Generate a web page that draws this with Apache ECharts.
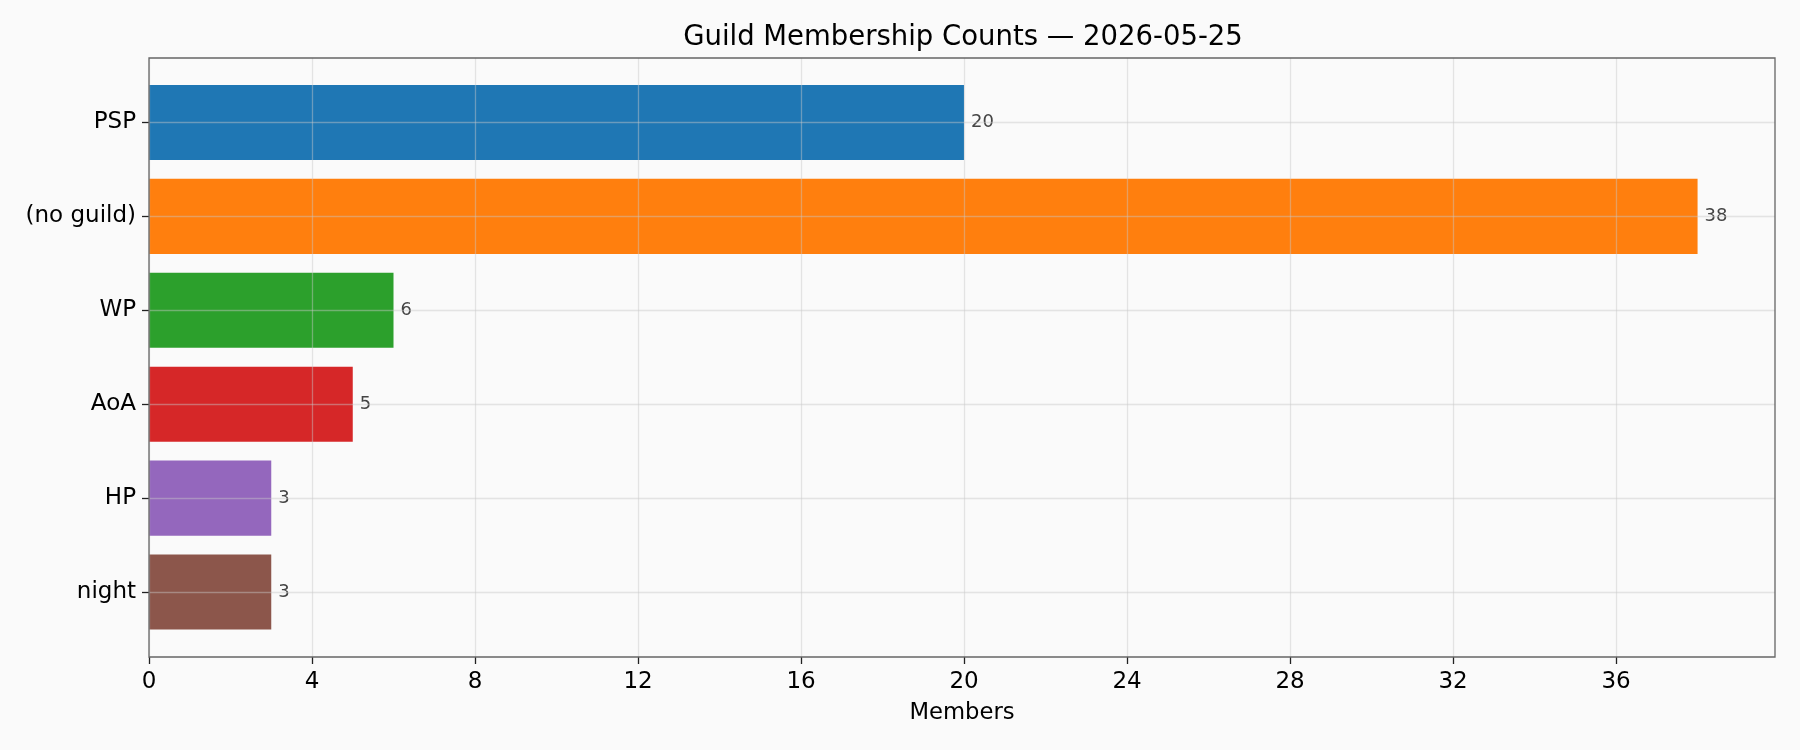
<!DOCTYPE html>
<html>
<head>
<meta charset="utf-8">
<script src="https://cdn.jsdelivr.net/npm/echarts@6/dist/echarts.min.js"></script>
<style>
  html, body { margin: 0; padding: 0; background: #fafafa; }
  #main { width: 1800px; height: 750px; }
</style>
</head>
<body>
<div id="main"></div>
<script>
var guilds = ['PSP', '(no guild)', 'WP', 'AoA', 'HP', 'night'];
var members = [20, 38, 6, 5, 3, 3];
var barColors = ['#1f77b4', '#ff7f0e', '#2ca02c', '#d62728', '#9467bd', '#8c564b'];
var xTicks = [0, 4, 8, 12, 16, 20, 24, 28, 32, 36];

var FONT = 'DejaVu Sans';
var X_MAX = 39.9;
var GRID_LINE = 'rgba(200,200,200,0.45)';

var chartDom = document.getElementById('main');
var myChart = echarts.init(chartDom);

var option = {
  backgroundColor: '#fafafa',
  animation: false,
  textStyle: { fontFamily: FONT },
  title: {
    text: 'Guild Membership Counts \u2014 2026-05-25',
    left: 958,
    top: 19,
    textAlign: 'center',
    textStyle: { fontFamily: FONT, fontSize: 27.5, fontWeight: 'normal', color: '#000' }
  },
  grid: [
    // frame + x axis
    {
      left: 149, right: 25, top: 58, bottom: 93,
      show: true, z: 10,
      borderColor: '#666', borderWidth: 1.3,
      backgroundColor: 'transparent'
    },
    // bars, inset so category bands match the padded y range
    { left: 149, right: 25, top: 75.5, bottom: 111 }
  ],
  xAxis: [
    {
      gridIndex: 0,
      type: 'value',
      min: 0,
      max: X_MAX,
      interval: 4,
      z: 3,
      name: 'Members',
      nameLocation: 'middle',
      nameGap: 45,
      nameTextStyle: { fontFamily: FONT, fontSize: 22.7, color: '#000' },
      axisLine: { show: false },
      axisTick: { show: true, length: 7, customValues: xTicks, lineStyle: { color: '#222', width: 1.3 } },
      axisLabel: { customValues: xTicks, margin: 14, fontFamily: FONT, fontSize: 23, color: '#000' },
      splitLine: { show: true, lineStyle: { color: GRID_LINE, width: 1.3 } }
    },
    {
      gridIndex: 1,
      type: 'value',
      min: 0,
      max: X_MAX,
      show: false
    }
  ],
  yAxis: [
    {
      gridIndex: 0,
      type: 'value',
      show: false
    },
    {
      gridIndex: 1,
      type: 'category',
      data: guilds,
      inverse: true,
      axisLine: { show: false },
      axisTick: { show: true, alignWithLabel: true, length: 7, lineStyle: { color: '#222', width: 1.3 } },
      axisLabel: { margin: 13, padding: [4, 0, 0, 0], fontFamily: FONT, fontSize: 23, color: '#000' },
      splitLine: { show: false }
    }
  ],
  series: [
    {
      type: 'bar',
      xAxisIndex: 1,
      yAxisIndex: 1,
      data: members,
      colorBy: 'data',
      color: barColors,
      barCategoryGap: '20%',
      label: {
        show: true,
        position: 'right',
        distance: 7,
        padding: [3, 0, 0, 0],
        fontFamily: FONT,
        fontSize: 18,
        color: '#444'
      },
      markLine: {
        silent: true,
        symbol: 'none',
        z: 3,
        label: { show: false },
        lineStyle: { color: GRID_LINE, width: 1.3, type: 'solid' },
        data: guilds.map(function (g) { return { yAxis: g }; })
      }
    }
  ]
};

myChart.setOption(option);
</script>
</body>
</html>
